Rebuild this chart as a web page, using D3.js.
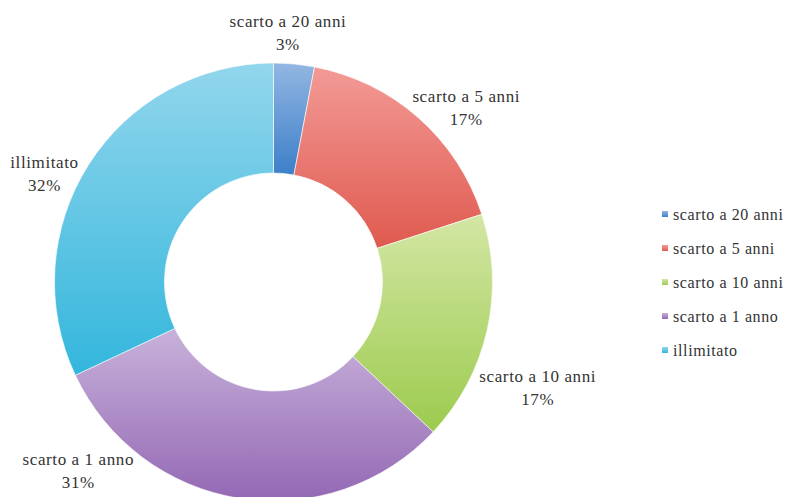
<!DOCTYPE html>
<html>
<head>
<meta charset="utf-8">
<script src="https://cdn.jsdelivr.net/npm/d3@7"></script>
<style>
  body { margin: 0; background: #fff; }
  text { font-family: "Liberation Serif", "Times New Roman", "DejaVu Serif", serif; fill: #333; letter-spacing: 0.6px; }
</style>
</head>
<body>
<div id="container"></div>
<script>
/* CONSTANTS AND GLOBALS */
const width = 798,
  height = 497

// DATA
const categories = ["scarto a 20 anni", "scarto a 5 anni", "scarto a 10 anni", "scarto a 1 anno", "illimitato"]
const values = [3, 17, 17, 31, 32]
const percentLabels = ["3%", "17%", "17%", "31%", "32%"]

// gradient colours (top, bottom) per slice
const colorsTop = ["#93b6e2", "#f39a96", "#d3e6a4", "#c8b2da", "#92d6ec"]
const colorsBottom = ["#3c7fc9", "#df5a4f", "#9ccb4e", "#9368b4", "#33b6dc"]

// label placement: radius and angle nudge (degrees) from slice middle
const labelLayout = [
  { r: 251, da: -2.1 },
  { r: 261, da: 6.2 },
  { r: 284, da: 8.9 },
  { r: 270, da: 37.3 },
  { r: 254, da: -6.8 }
]

const cx = 273.5, cy = 282,
  outerR = 219, innerR = 109

const data = categories.map((c, i) => ({ name: c, value: values[i], pct: percentLabels[i], i }))

// CREATE SVG ELEMENT
const svg = d3.select("#container")
  .append("svg")
  .attr("width", width)
  .attr("height", height)

const defs = svg.append("defs")
data.forEach(d => {
  const g = defs.append("linearGradient")
    .attr("id", "grad" + d.i)
    .attr("x1", 0).attr("y1", 0)
    .attr("x2", 0).attr("y2", 1)
  g.append("stop").attr("offset", "0%").attr("stop-color", colorsTop[d.i])
  g.append("stop").attr("offset", "100%").attr("stop-color", colorsBottom[d.i])
})

// PIE + ARC
const pie = d3.pie()
  .value(d => d.value)
  .sort(null)

const arcGen = d3.arc()
  .innerRadius(innerR)
  .outerRadius(outerR)

const arcs = pie(data)

const chart = svg.append("g")
  .attr("transform", `translate(${cx}, ${cy})`)

chart.selectAll(".slice")
  .data(arcs)
  .join("path")
  .attr("class", "slice")
  .attr("d", arcGen)
  .attr("fill", d => `url(#grad${d.data.i})`)
  .attr("stroke", "#fff")
  .attr("stroke-width", 0.6)

// LABELS
const labels = chart.selectAll(".label")
  .data(arcs)
  .join("text")
  .attr("class", "label")
  .attr("text-anchor", "middle")
  .attr("font-size", 17)
  .attr("transform", d => {
    const lay = labelLayout[d.data.i]
    const a = (d.startAngle + d.endAngle) / 2 + lay.da * Math.PI / 180
    return `translate(${Math.sin(a) * lay.r}, ${-Math.cos(a) * lay.r})`
  })

labels.append("tspan")
  .attr("x", 0)
  .attr("dy", -4)
  .text(d => d.data.name)

labels.append("tspan")
  .attr("x", 0)
  .attr("dy", 23)
  .text(d => d.data.pct)

// LEGEND
const legend = svg.append("g")
  .attr("transform", `translate(662, 211)`)

const legendScale = d3.scaleBand()
  .domain(categories)
  .range([0, 34 * categories.length])

const items = legend.selectAll(".item")
  .data(data)
  .join("g")
  .attr("class", "item")
  .attr("transform", d => `translate(0, ${legendScale(d.name)})`)

items.append("rect")
  .attr("width", 6)
  .attr("height", 6)
  .attr("fill", d => `url(#grad${d.i})`)

items.append("text")
  .attr("x", 11)
  .attr("y", 9)
  .attr("font-size", 16)
  .text(d => d.name)
</script>
</body>
</html>
